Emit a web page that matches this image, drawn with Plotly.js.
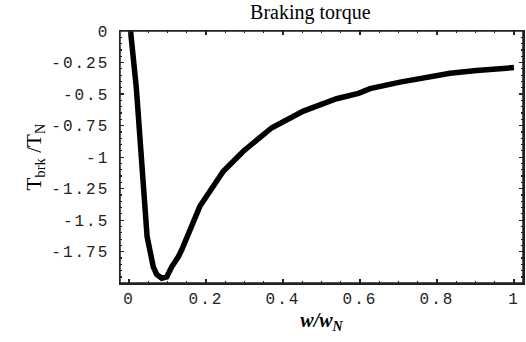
<!DOCTYPE html>
<html>
<head>
<meta charset="utf-8">
<script src="https://cdn.plot.ly/plotly-3.0.1.min.js"></script>
<style>
html,body{margin:0;padding:0;background:#fff;}
#chart{width:526px;height:342px;}
.xtick text, .ytick text{letter-spacing:2px;}
</style>
</head>
<body>
<div id="chart"></div>
<script>
// Speed ratio w/w_N
const speedRatio = [0.004, 0.019, 0.047, 0.055, 0.063, 0.072, 0.085, 0.098, 0.111, 0.128, 0.137, 0.184, 0.245, 0.297, 0.371, 0.453, 0.539, 0.596, 0.626, 0.704, 0.773, 0.834, 0.903, 0.955, 1.0];
// Braking torque ratio T_brk/T_N
const torqueRatio = [0, -0.45, -1.63, -1.76, -1.87, -1.93, -1.96, -1.95, -1.87, -1.79, -1.735, -1.39, -1.112, -0.953, -0.767, -0.635, -0.537, -0.494, -0.457, -0.405, -0.367, -0.335, -0.314, -0.296, -0.29];

const xTickVals = [0, 0.2, 0.4, 0.6, 0.8, 1];
const xTickText = ['0', '0.2', '0.4', '0.6', '0.8', '1'];
const yTickVals = [0, -0.25, -0.5, -0.75, -1, -1.25, -1.5, -1.75];
const yTickText = ['0', '-0.25', '-0.5', '-0.75', '-1', '-1.25', '-1.5', '-1.75'];

const trace = {
  x: speedRatio,
  y: torqueRatio,
  type: 'scatter',
  mode: 'lines',
  line: {color: '#000', width: 5.5, shape: 'linear'},
  hoverinfo: 'skip'
};

const tickFont = {family: 'Liberation Mono, Courier New, monospace', size: 16, color: '#222'};

const layout = {
  width: 526,
  height: 342,
  margin: {l: 120, r: 3, t: 31, b: 59},
  paper_bgcolor: '#fff',
  plot_bgcolor: '#fff',
  showlegend: false,
  title: {
    text: 'Braking torque',
    font: {family: 'Liberation Serif, Times New Roman, serif', size: 20, color: '#000'},
    x: 0.590, xanchor: 'center', y: 0.965, yanchor: 'middle'
  },
  shapes: [{
    type: 'rect', xref: 'paper', yref: 'paper', x0: 0, x1: 1, y0: 0, y1: 1,
    line: {color: '#222', width: 1.5}, fillcolor: 'rgba(0,0,0,0)', layer: 'above'
  }],
  xaxis: {
    range: [-0.0234, 1.0234],
    tickmode: 'array',
    tickvals: xTickVals,
    ticktext: xTickText,
    tickfont: tickFont,
    ticks: 'inside',
    ticklen: 4,
    tickwidth: 1.2,
    tickcolor: '#222',
    showline: true,
    linecolor: '#222',
    linewidth: 1.5,
    mirror: 'ticks',
    showgrid: false,
    zeroline: false,
    minor: {dtick: 0.05, tick0: 0, ticks: 'inside', ticklen: 2, tickcolor: '#222'},
    title: {
      text: '<b><i>w/w<sub>N</sub></i></b>',
      font: {family: 'Liberation Serif, Times New Roman, serif', size: 20, color: '#000'},
      standoff: 4
    }
  },
  yaxis: {
    range: [-1.998, 0],
    tickmode: 'array',
    tickvals: yTickVals,
    ticktext: yTickText,
    tickfont: tickFont,
    ticks: 'inside',
    ticklen: 4,
    tickwidth: 1.2,
    tickcolor: '#222',
    ticklabelstandoff: 6,
    showline: true,
    linecolor: '#222',
    linewidth: 1.5,
    mirror: 'ticks',
    showgrid: false,
    zeroline: false,
    minor: {dtick: 0.05, tick0: 0, ticks: 'inside', ticklen: 2, tickcolor: '#222'},
    title: {
      text: 'T<sub>brk</sub> /T<sub>N</sub>',
      font: {family: 'Liberation Serif, Times New Roman, serif', size: 21, color: '#000'},
      standoff: 4
    }
  }
};

Plotly.newPlot('chart', [trace], layout, {staticPlot: true, displayModeBar: false});
</script>
</body>
</html>
